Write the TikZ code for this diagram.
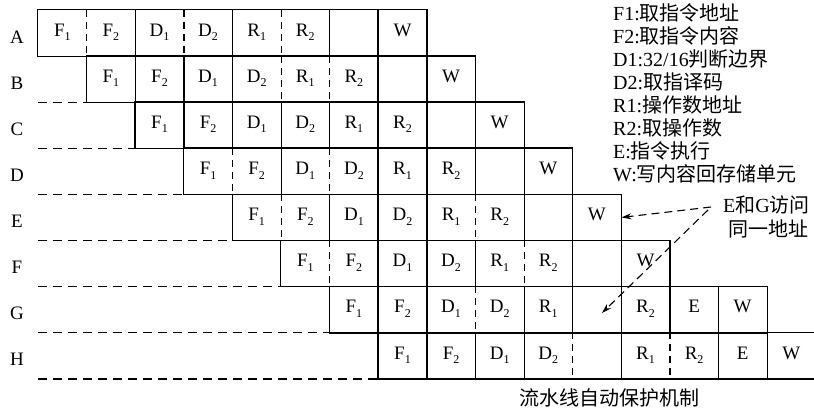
\documentclass[tikz,border=0pt]{standalone}
\usepackage{fontspec}
\setmainfont{Liberation Serif}
\newfontfamily\cjk{Noto Sans CJK SC}
\usetikzlibrary{arrows.meta}
\newcommand\stg[2]{#1\raisebox{-0.5ex}{\fontsize{12}{12}\selectfont #2}}
\newcommand\pipeRow[4]{%
  \foreach \lab/\sp [count=\k] in {#4}{%
    \node[cell] (#1\k) at ({38+48.6*(#3+\k-0.5)},{10+46.1*(#2+0.5)}) {\lab};
    \draw[cellline] (#1\k.north west) -- (#1\k.north east) (#1\k.south west) -- (#1\k.south east);
    \draw[\sp] (#1\k.north east) -- (#1\k.south east);
  }
  \draw[cellline] (#11.north west) -- (#11.south west);
}
\tikzset{
  cell/.style={minimum width=48.6pt, minimum height=46.1pt, inner sep=0pt,
    text height=12pt, text depth=5.4pt, font=\fontsize{19}{19}\selectfont},
  cellline/.style={line width=1.3pt, line cap=rect},
  seps/.style={cellline},
  sepd/.style={line width=1.3pt, dash pattern=on 7pt off 5pt},
  leftdash/.style={line width=1.1pt, dash pattern=on 9pt off 6pt},
  thickline/.style={line width=2.2pt},
  rowlab/.style={anchor=base, inner sep=0pt, font=\fontsize{19}{19}\selectfont},
  legend/.style={anchor=base west, inner sep=0pt, font=\fontsize{20}{20}\selectfont},
  note/.style={anchor=base west, inner sep=0pt, font=\fontsize{20}{20}\selectfont},
  dasharrow/.style={line width=1.1pt, dash pattern=on 8pt off 5pt,
    -{Stealth[length=10pt,width=6pt]}}
}
\begin{document}
\begin{tikzpicture}[x=1pt,y=-1pt]
\path[use as bounding box] (0,0) rectangle (814,411);
\begin{scope}
\clip (0,0) rectangle (814,411);
\pipeRow{A}{0}{0}{\stg{F}{1}/sepd,\stg{F}{2}/seps,\stg{D}{1}/sepd,\stg{D}{2}/seps,\stg{R}{1}/sepd,\stg{R}{2}/seps,{}/seps,W/seps}
\pipeRow{B}{1}{1}{\stg{F}{1}/seps,\stg{F}{2}/seps,\stg{D}{1}/seps,\stg{D}{2}/sepd,\stg{R}{1}/sepd,\stg{R}{2}/seps,{}/seps,W/seps}
\pipeRow{C}{2}{2}{\stg{F}{1}/seps,\stg{F}{2}/seps,\stg{D}{1}/seps,\stg{D}{2}/seps,\stg{R}{1}/seps,\stg{R}{2}/seps,{}/seps,W/seps}
\pipeRow{D}{3}{3}{\stg{F}{1}/sepd,\stg{F}{2}/seps,\stg{D}{1}/sepd,\stg{D}{2}/seps,\stg{R}{1}/seps,\stg{R}{2}/seps,{}/seps,W/seps}
\pipeRow{E}{4}{4}{\stg{F}{1}/sepd,\stg{F}{2}/seps,\stg{D}{1}/seps,\stg{D}{2}/seps,\stg{R}{1}/sepd,\stg{R}{2}/seps,{}/seps,W/seps}
\pipeRow{F}{5}{5}{\stg{F}{1}/sepd,\stg{F}{2}/seps,\stg{D}{1}/seps,\stg{D}{2}/seps,\stg{R}{1}/sepd,\stg{R}{2}/seps,{}/seps,W/seps}
\pipeRow{G}{6}{6}{\stg{F}{1}/seps,\stg{F}{2}/seps,\stg{D}{1}/sepd,\stg{D}{2}/seps,\stg{R}{1}/seps,{}/seps,\stg{R}{2}/seps,E/seps,W/seps}
\pipeRow{H}{7}{7}{\stg{F}{1}/seps,\stg{F}{2}/seps,\stg{D}{1}/seps,\stg{D}{2}/sepd,{}/seps,\stg{R}{1}/sepd,\stg{R}{2}/seps,E/seps,W/seps}
\end{scope}
% thick divider
\draw[thickline] (A8.north west) -- (H1.south west);
% left dashed guides
\foreach \r in {B,C,D,E,F,G,H}{
  \draw[leftdash] (A1.west |- \r1.south west) -- (\r1.south west);
}
% row labels
\foreach \r [count=\i from 0] in {A,B,C,D,E,F,G,H}{
  \node[rowlab] (lab\r) at (17,{10+46.1*(\i+0.5)+10}) {\r};
}
% legend
\node[legend] (l1) at (613,21)  {F1:{\cjk 取指令地址}};
\node[legend] (l2) at (613,44)  {F2:{\cjk 取指令内容}};
\node[legend] (l3) at (613,67)  {D1:32/16{\cjk 判断边界}};
\node[legend] (l4) at (613,90)  {D2:{\cjk 取指译码}};
\node[legend] (l5) at (613,113) {R1:{\cjk 操作数地址}};
\node[legend] (l6) at (613,136) {R2:{\cjk 取操作数}};
\node[legend] (l7) at (613,159) {E:{\cjk 指令执行}};
\node[legend] (l8) at (613,182) {W:{\cjk 写内容回存储单元}};
% note and arrows
\node[note] (eg1) at (723,212.5) {E{\cjk 和}G{\cjk 访问}};
\node[note] (eg2) at (728,236.5) {\cjk 同一地址};
\coordinate (egsrc) at (711,207);
\coordinate (gtip) at ([xshift=5pt,yshift=-3.4pt]G6.center);
\draw[dasharrow] (egsrc) -- (E8.east);
\draw[dasharrow] ([xshift=-3pt,yshift=-3pt]egsrc) -- (gtip);
% caption
\node[note] (cap) at (519,405.5) {\cjk 流水线自动保护机制};
\end{tikzpicture}
\end{document}
